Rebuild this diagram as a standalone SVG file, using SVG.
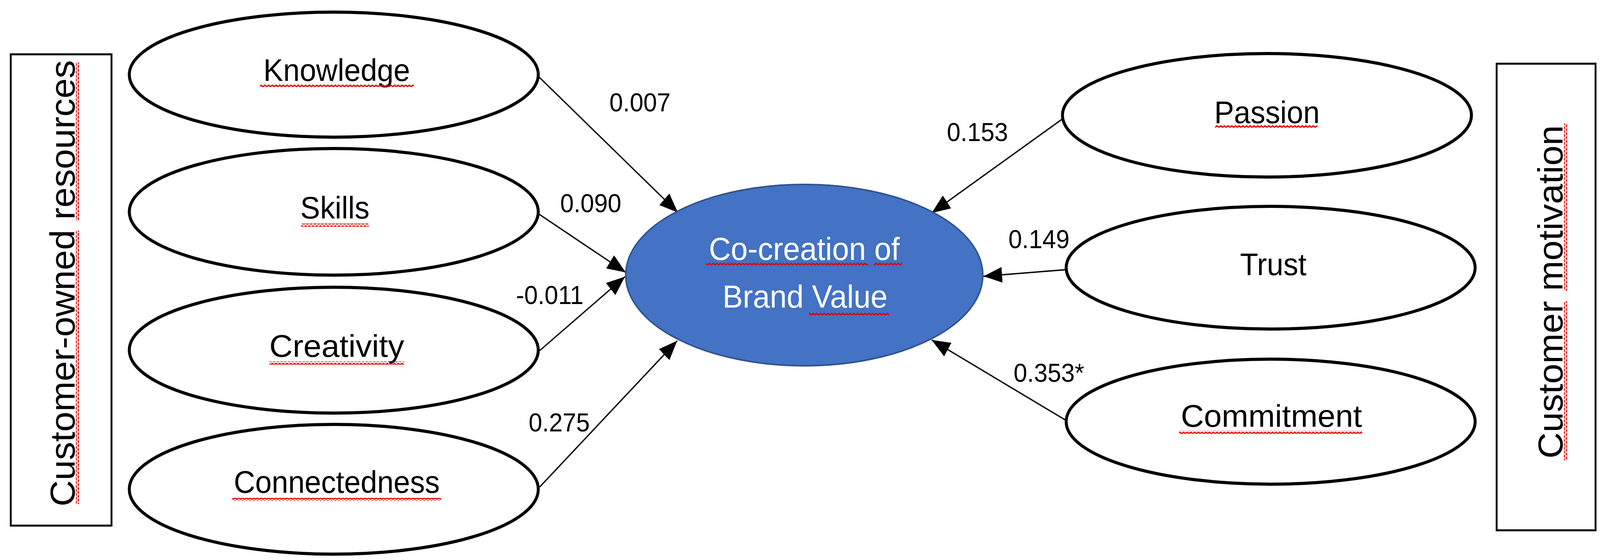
<svg xmlns="http://www.w3.org/2000/svg" width="4319" height="1433" viewBox="0 0 4319 1433" preserveAspectRatio="none" style="max-width:100vw;max-height:100vh">
<style>
.node{fill:#fff;stroke:#000;stroke-width:8}
.core{fill:#4472C4;stroke:#2F528F;stroke-width:4}
.lbl{font-family:"Liberation Sans",Arial,sans-serif;font-size:80px;fill:#000;text-anchor:middle}
.corelbl{font-family:"Liberation Sans",Arial,sans-serif;font-size:82px;fill:#fff;text-anchor:middle}
.coef{font-family:"Liberation Sans",Arial,sans-serif;font-size:66px;fill:#000}
.side{font-family:"Liberation Sans",Arial,sans-serif;font-size:93px;fill:#000;text-anchor:middle}
.box{fill:#fff;stroke:#000;stroke-width:5}
.conn{stroke:#000;stroke-width:3.5;fill:none;marker-end:url(#arrow)}
.sq{fill:url(#wavy)}
</style>
<defs>
<marker id="arrow" viewBox="0 0 10 10" refX="10" refY="5" markerUnits="userSpaceOnUse" markerWidth="50" markerHeight="40" orient="auto" preserveAspectRatio="none">
<path d="M0,0 L10,5 L0,10 z" fill="#000"/>
</marker>
<pattern id="wavy" patternUnits="userSpaceOnUse" width="10" height="8">
<path d="M0,6 L5,2 L10,6" fill="none" stroke="#e00000" stroke-width="3.5"/>
</pattern>
</defs>
<rect width="4319" height="1433" fill="#fff"/>

<g id="group-left">
<rect class="box" x="29" y="139" width="272" height="1206"/>
<g transform="translate(201,725) rotate(-90)">
<text class="side" x="0" y="0">Customer-owned resources</text>
<rect class="sq" x="-565" y="4" width="700" height="8"/>
<rect class="sq" x="161" y="4" width="404" height="8"/>
</g>
</g>

<g id="group-right">
<rect class="box" x="4040" y="163" width="267" height="1194"/>
<g transform="translate(4218,747) rotate(-90)">
<text class="side" x="0" y="0">Customer motivation</text>
<rect class="sq" x="-431" y="4" width="407" height="8"/>
<rect class="sq" x="3" y="4" width="428" height="8"/>
</g>
</g>

<g id="connectors">
<line class="conn" x1="1455" y1="197" x2="1830" y2="544"/>
<line class="conn" x1="1455" y1="548" x2="1689" y2="697"/>
<line class="conn" x1="1457" y1="897" x2="1687" y2="708"/>
<line class="conn" x1="1457" y1="1246" x2="1828" y2="872"/>
<line class="conn" x1="2867" y1="305" x2="2515" y2="545"/>
<line class="conn" x1="2878" y1="690" x2="2655" y2="707"/>
<line class="conn" x1="2878" y1="1076" x2="2515" y2="870"/>
<text class="coef" x="1645" y="285">0.007</text>
<text class="coef" x="1512" y="543">0.090</text>
<text class="coef" x="1393" y="778">-0.011</text>
<text class="coef" x="1427" y="1104">0.275</text>
<text class="coef" x="2556" y="361">0.153</text>
<text class="coef" x="2722" y="635">0.149</text>
<text class="coef" x="2736" y="977">0.353*</text>
</g>

<g id="knowledge">
<ellipse class="node" cx="901" cy="191" rx="552" ry="160"/>
<text class="lbl" x="909" y="207">Knowledge</text>
<rect class="sq" x="702" y="216" width="415" height="8"/>
</g>
<g id="skills">
<ellipse class="node" cx="901" cy="542" rx="552" ry="162"/>
<text class="lbl" x="904" y="559">Skills</text>
<rect class="sq" x="813" y="572" width="182" height="8"/>
</g>
<g id="creativity">
<ellipse class="node" cx="901" cy="896" rx="552" ry="161"/>
<text class="lbl" x="909" y="913" textLength="364" lengthAdjust="spacingAndGlyphs">Creativity</text>
<rect class="sq" x="727" y="925" width="364" height="8"/>
</g>
<g id="connectedness">
<ellipse class="node" cx="901" cy="1252" rx="552" ry="166"/>
<text class="lbl" x="909" y="1261">Connectedness</text>
<rect class="sq" x="627" y="1274" width="564" height="8"/>
</g>

<g id="passion">
<ellipse class="node" cx="3420" cy="295" rx="552" ry="158"/>
<text class="lbl" x="3420" y="315">Passion</text>
<rect class="sq" x="3280" y="320" width="276" height="8"/>
</g>
<g id="trust">
<ellipse class="node" cx="3430" cy="685" rx="552" ry="157"/>
<text class="lbl" x="3437" y="704">Trust</text>
</g>
<g id="commitment">
<ellipse class="node" cx="3430" cy="1079" rx="552" ry="160"/>
<text class="lbl" x="3432" y="1092" textLength="489" lengthAdjust="spacingAndGlyphs">Commitment</text>
<rect class="sq" x="3183" y="1102" width="494" height="8"/>
</g>

<g id="cocreation">
<ellipse class="core" cx="2171" cy="704" rx="482" ry="232"/>
<text class="corelbl" x="2171" y="665">Co-creation of</text>
<text class="corelbl" x="2173" y="787">Brand Value</text>
<rect class="sq" x="1906" y="672" width="437" height="8"/>
<rect class="sq" x="2359" y="672" width="77" height="8"/>
<rect class="sq" x="2184" y="800" width="217" height="8"/>
</g>
</svg>
